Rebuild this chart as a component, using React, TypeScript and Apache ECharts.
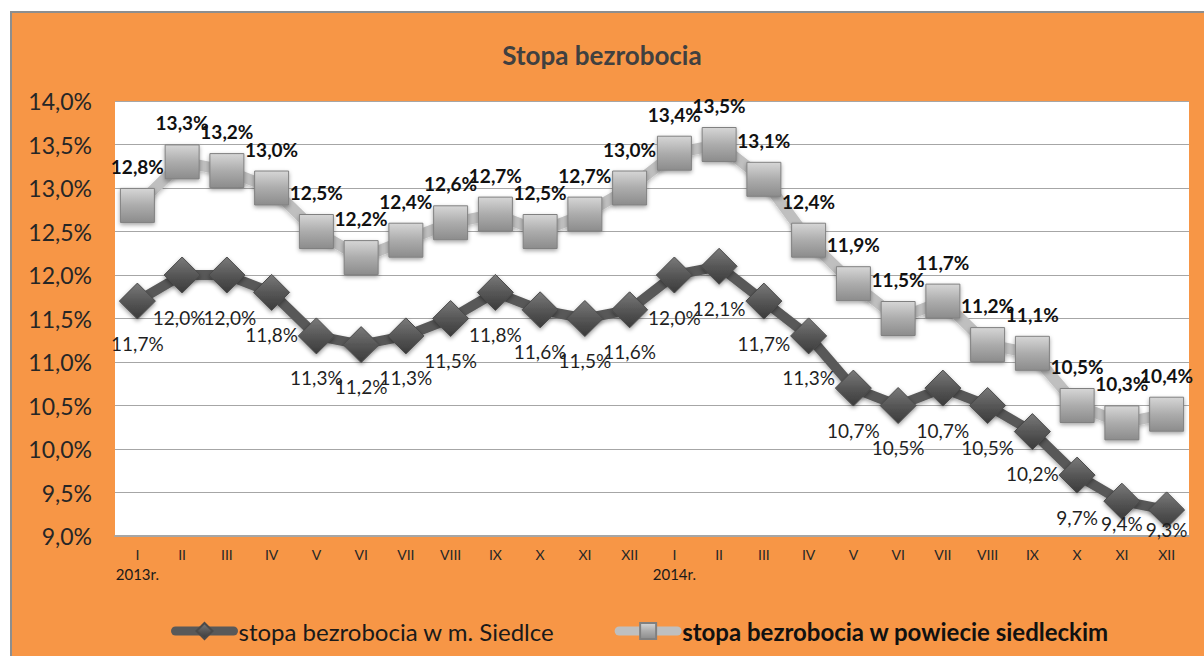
import React, { useEffect, useRef } from "react";
import * as echarts from "echarts";

const months = ["I", "II", "III", "IV", "V", "VI", "VII", "VIII", "IX", "X", "XI", "XII"];
const categories = [...months, ...months];
const yearLabels: Record<number, string> = { 0: "2013r.", 12: "2014r." };

const siedlce = [11.7, 12.0, 12.0, 11.8, 11.3, 11.2, 11.3, 11.5, 11.8, 11.6, 11.5, 11.6, 12.0, 12.1, 11.7, 11.3, 10.7, 10.5, 10.7, 10.5, 10.2, 9.7, 9.4, 9.3];
const powiat = [12.8, 13.3, 13.2, 13.0, 12.5, 12.2, 12.4, 12.6, 12.7, 12.5, 12.7, 13.0, 13.4, 13.5, 13.1, 12.4, 11.9, 11.5, 11.7, 11.2, 11.1, 10.5, 10.3, 10.4];

const nameSiedlce = "stopa bezrobocia w m. Siedlce";
const namePowiat = "stopa bezrobocia w powiecie siedleckim";

const yMin = 9;
const yMax = 14;
const yStep = 0.5;

const FONT = "Lato, 'Open Sans', sans-serif";
const pct = (v: number) => v.toFixed(1).replace(".", ",") + "%";

export default function App() {
  const ref = useRef<HTMLDivElement>(null);
  useEffect(() => {
    if (!ref.current) return;
    const chart = echarts.init(ref.current, null, { renderer: "svg" });
    const diamondFill = {
      type: "linear", x: 0, y: 0, x2: 0, y2: 1,
      colorStops: [
        { offset: 0, color: "#7a7a7a" },
        { offset: 0.5, color: "#575757" },
        { offset: 1, color: "#3a3a3a" },
      ],
    };
    const squareFill = {
      type: "linear", x: 0, y: 0, x2: 0, y2: 1,
      colorStops: [
        { offset: 0, color: "#d6d6d6" },
        { offset: 0.5, color: "#acacac" },
        { offset: 1, color: "#8c8c8c" },
      ],
    };
    const siedlceData = siedlce.map((v, i) => {
      if (i === 1) return { value: v, label: { offset: [-3, 0] } };
      if (i === 2) return { value: v, label: { offset: [3, 0] } };
      if (i === 22) return { value: v, label: { distance: -6 } };
      if (i === 23) return { value: v, label: { distance: -8 } };
      return v;
    });
    chart.setOption({
      animation: false,
      backgroundColor: "#ffffff",
      graphic: [
        {
          type: "rect",
          z: -10,
          silent: true,
          shape: { x: 11, y: 12, width: 1210, height: 660 },
          style: { fill: "#F79646", stroke: "#8E8E8E", lineWidth: 2 },
        },
      ],
      title: {
        text: "Stopa bezrobocia",
        left: "center",
        top: 37,
        padding: [5, 5, 5, 25],
        textStyle: { fontSize: 26, fontWeight: "bold", color: "#404040", fontFamily: FONT },
      },
      grid: {
        left: 115,
        right: 15,
        top: 101,
        bottom: 120,
        show: true,
        backgroundColor: "#ffffff",
        borderWidth: 0,
      },
      legend: {
        top: 614,
        left: 166,
        itemWidth: 58,
        itemHeight: 20,
        itemGap: 60,
        data: [nameSiedlce, namePowiat],
        lineStyle: { width: 9, cap: "round" },
        formatter: (name: string) => (name === namePowiat ? `{b|${name}}` : `{n|${name}}`),
        textStyle: {
          fontSize: 24,
          color: "#1a1a1a",
          fontFamily: FONT,
          rich: {
            n: { fontSize: 24, color: "#1a1a1a", fontFamily: FONT },
            b: { fontSize: 24, color: "#111111", fontFamily: FONT, fontWeight: "bold" },
          },
        },
      },
      xAxis: {
        type: "category",
        data: categories,
        boundaryGap: true,
        axisLine: { show: true, lineStyle: { color: "#A6A6A6", width: 2 } },
        axisTick: { show: false },
        axisLabel: {
          interval: 0,
          fontSize: 14,
          lineHeight: 19,
          margin: 9,
          color: "#262626",
          fontFamily: FONT,
          formatter: (v: string, i: number) => (yearLabels[i] ? `${v}\n{y|${yearLabels[i]}}` : v),
          rich: {
            y: { fontSize: 15, lineHeight: 19, color: "#1a1a1a", fontFamily: FONT },
          },
        },
      },
      yAxis: {
        type: "value",
        min: yMin,
        max: yMax,
        interval: yStep,
        axisLine: { show: false },
        axisTick: { show: false },
        axisLabel: {
          fontSize: 23,
          color: "#262626",
          margin: 23,
          fontFamily: FONT,
          formatter: (v: number) => pct(v),
        },
        splitLine: { lineStyle: { color: "#A6A6A6", width: 1 } },
      },
      series: [
        {
          name: nameSiedlce,
          type: "line",
          data: siedlceData,
          symbol: "diamond",
          symbolSize: 36,
          lineStyle: { color: "#595959", width: 10, shadowBlur: 4, shadowColor: "rgba(0,0,0,0.35)", shadowOffsetY: 2 },
          itemStyle: {
            color: diamondFill,
            borderColor: "#4a4a4a",
            borderWidth: 1,
            shadowBlur: 4,
            shadowColor: "rgba(0,0,0,0.4)",
            shadowOffsetY: 2,
          },
          label: {
            show: true,
            position: "bottom",
            distance: 14,
            fontSize: 19,
            color: "#1f1f1f",
            fontFamily: FONT,
            formatter: (p: any) => pct(p.value as number),
          },
          z: 3,
        },
        {
          name: namePowiat,
          type: "line",
          data: powiat,
          symbol: "rect",
          symbolSize: 34,
          lineStyle: { color: "#BFBFBF", width: 11, shadowBlur: 4, shadowColor: "rgba(0,0,0,0.25)", shadowOffsetY: 2 },
          itemStyle: {
            color: squareFill,
            borderColor: "#808080",
            borderWidth: 1,
            shadowBlur: 4,
            shadowColor: "rgba(0,0,0,0.35)",
            shadowOffsetY: 2,
          },
          label: {
            show: true,
            position: "top",
            distance: 12,
            fontSize: 19,
            fontWeight: "bold",
            color: "#111111",
            fontFamily: FONT,
            formatter: (p: any) => pct(p.value as number),
          },
          z: 4,
        },
      ],
    } as any);
    return () => chart.dispose();
  }, []);
  return (
    <div
      ref={ref}
      style={{ position: "fixed", left: 0, top: 0, width: 1204, height: 656 }}
    />
  );
}
